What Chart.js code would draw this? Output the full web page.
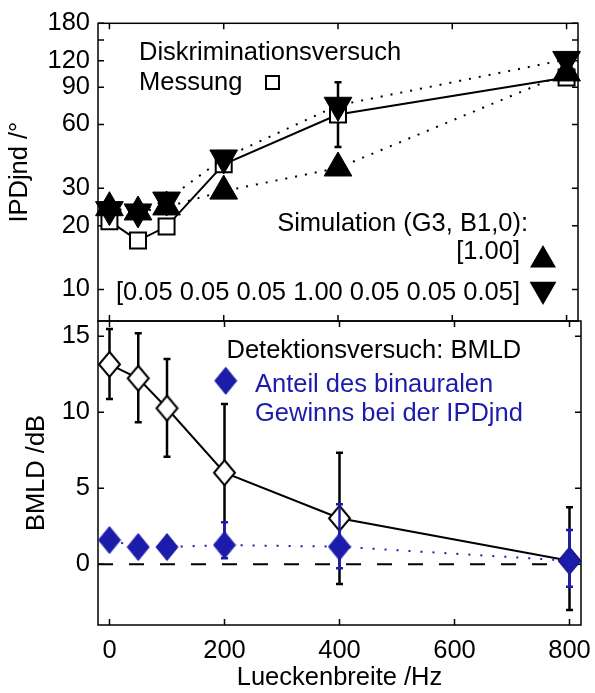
<!DOCTYPE html>
<html>
<head>
<meta charset="utf-8">
<script src="https://cdn.jsdelivr.net/npm/chart.js@4/dist/chart.umd.min.js"></script>
<style>
  body { margin: 0; background: #fff; }
  #wrap { position: relative; width: 595px; height: 693px; }
  #wrap canvas { position: absolute; left: 0; top: 0; }
</style>
</head>
<body>
<div id="wrap">
  <canvas id="ipdChart" width="595" height="693"></canvas>
  <canvas id="bmldChart" width="595" height="693"></canvas>
</div>
<script>
// Lueckenbreite /Hz
const xVals = [0, 50, 100, 200, 400, 800];
const xTicks = [0, 200, 400, 600, 800];
const xRange = [-20, 820];

// upper panel: IPDjnd (degrees, log axis)
const ipdMess = [21.0, 17.0, 19.8, 38.9, 66.8, 100];
const ipdMessLo = [null, null, null, null, 47, null];
const ipdMessHi = [null, null, null, null, 95, null];
const ipdSimA = [24.3, 23.2, 24.5, 29.1, 37.4, 105];     // [1.00]
const ipdSimB = [23.8, 23.2, 26.4, 41.7, 73.9, 121.6];   // [0.05 0.05 0.05 1.00 0.05 0.05 0.05]
const ipdTicks = [10, 20, 30, 60, 90, 120, 150, 180];
const ipdLabels = [10, 20, 30, 60, 90, 120, 180];
const ipdRange = [7.1, 180];

// lower panel: BMLD /dB
const bmld = [13.15, 12.23, 10.26, 6.02, 3.02, 0.23];
const bmldLo = [10.87, 9.34, 7.07, 1.5, -1.3, -3.01];
const bmldHi = [15.47, 15.19, 13.5, 10.54, 7.34, 3.74];
const anteil = [1.59, 1.13, 1.13, 1.26, 1.15, 0.23];
const anteilLo = [null, null, null, 0.39, -0.27, -1.48];
const anteilHi = [null, null, null, 2.76, 3.94, 2.25];
const bmldTicks = [0, 5, 10, 15];
const bmldRange = [-4, 16];

const BLUE = '#1c1caa';
const FONT = 'Liberation Sans, Arial, Helvetica, sans-serif';
const FS = 25.5;

Chart.defaults.font.family = FONT;
Chart.defaults.font.size = FS;
Chart.defaults.color = '#000';

function pts(ys) {
    return xVals.map((x, i) => ({ x: x, y: ys[i] }));
}

function diamond(w, h, fill, stroke, lw) {
    const c = document.createElement('canvas');
    c.width = w + lw * 2;
    c.height = h + lw * 2;
    const g = c.getContext('2d');
    g.beginPath();
    g.moveTo(c.width / 2, lw);
    g.lineTo(c.width - lw, c.height / 2);
    g.lineTo(c.width / 2, c.height - lw);
    g.lineTo(lw, c.height / 2);
    g.closePath();
    g.fillStyle = fill;
    g.fill();
    g.lineWidth = lw;
    g.strokeStyle = stroke;
    g.stroke();
    return c;
}
const openDiamond = diamond(21, 25, '#fff', '#000', 2);
const blueDiamond = diamond(22, 27, BLUE, BLUE, 1);

function triangle(ctx, x, y, r, down) {
    let rad = down ? Math.PI : 0;
    ctx.beginPath();
    for (let k = 0; k < 3; k++) {
        const px = x + Math.sin(rad) * r, py = y - Math.cos(rad) * r;
        if (k === 0) ctx.moveTo(px, py); else ctx.lineTo(px, py);
        rad += Math.PI * 2 / 3;
    }
    ctx.closePath();
    ctx.fillStyle = '#000';
    ctx.fill();
}

// box with inward ticks, error bars and the text notes inside the axes
function makeFrame(yTicks, notes) {
    return {
        id: 'frame',
        beforeDatasetsDraw(chart) {
            const { ctx, chartArea: a, scales: { x, y } } = chart;
            ctx.save();
            ctx.strokeStyle = '#000';
            ctx.lineWidth = 1.5;
            ctx.strokeRect(a.left, a.top, a.right - a.left, a.bottom - a.top);
            ctx.beginPath();
            xTicks.forEach(v => {
                const px = x.getPixelForValue(v);
                ctx.moveTo(px, a.top); ctx.lineTo(px, a.top + 6);
                ctx.moveTo(px, a.bottom); ctx.lineTo(px, a.bottom - 6);
            });
            yTicks.forEach(v => {
                const py = y.getPixelForValue(v);
                ctx.moveTo(a.left, py); ctx.lineTo(a.left + 6, py);
                ctx.moveTo(a.right, py); ctx.lineTo(a.right - 6, py);
            });
            ctx.stroke();
            ctx.restore();
        },
        beforeDatasetDraw(chart, args) {
            const ds = chart.data.datasets[args.index];
            if (!ds.errLo) return;
            const { ctx, scales: { x, y } } = chart;
            ctx.save();
            ctx.strokeStyle = ds.errColor;
            ctx.lineWidth = 2.5;
            ctx.beginPath();
            xVals.forEach((xv, i) => {
                if (ds.errLo[i] == null) return;
                const px = x.getPixelForValue(xv);
                const p1 = y.getPixelForValue(ds.errLo[i]);
                const p2 = y.getPixelForValue(ds.errHi[i]);
                ctx.moveTo(px, p1); ctx.lineTo(px, p2);
                ctx.moveTo(px - 3.5, p1); ctx.lineTo(px + 3.5, p1);
                ctx.moveTo(px - 3.5, p2); ctx.lineTo(px + 3.5, p2);
            });
            ctx.stroke();
            ctx.restore();
        },
        afterDraw(chart) {
            const ctx = chart.ctx;
            ctx.save();
            ctx.font = FS + 'px ' + FONT;
            ctx.textBaseline = 'alphabetic';
            notes(ctx);
            ctx.restore();
        }
    };
}

function ipdNotes(ctx) {
    ctx.fillStyle = '#000';
    ctx.textAlign = 'left';
    ctx.fillText('Diskriminationsversuch', 139, 60);
    ctx.fillText('Messung', 139, 89.5);
    ctx.lineWidth = 2;
    ctx.strokeStyle = '#000';
    ctx.strokeRect(266, 76, 13, 13);
    ctx.textAlign = 'right';
    ctx.fillText('Simulation (G3, B1,0):', 528, 230.5);
    ctx.fillText('[1.00]', 520, 258.5);
    ctx.fillText('[0.05 0.05 0.05 1.00 0.05 0.05 0.05]', 520, 300);
    triangle(ctx, 543, 260, 15, false);
    triangle(ctx, 543, 289.5, 15.5, true);
}

function bmldNotes(ctx) {
    ctx.textAlign = 'left';
    ctx.fillStyle = '#000';
    ctx.fillText('Detektionsversuch: BMLD', 226.5, 358.3);
    ctx.drawImage(blueDiamond, 225.7 - blueDiamond.width / 2, 380.8 - blueDiamond.height / 2);
    ctx.fillStyle = BLUE;
    ctx.fillText('Anteil des binauralen', 255, 391.7);
    ctx.fillText('Gewinns bei der IPDjnd', 255, 420.7);
}

const hiddenGrid = { display: false, drawTicks: false };

new Chart(document.getElementById('ipdChart'), {
    type: 'line',
    data: {
        datasets: [{
            label: 'Messung',
            data: pts(ipdMess),
            errLo: ipdMessLo, errHi: ipdMessHi, errColor: '#000',
            borderColor: '#000', borderWidth: 2,
            pointStyle: 'rect', pointRadius: 11.3,
            pointBackgroundColor: '#fff', pointBorderColor: '#000', pointBorderWidth: 2,
            clip: false, order: 3
        }, {
            label: '[1.00]',
            data: pts(ipdSimA),
            borderColor: '#000', borderWidth: 2, borderDash: [2, 8],
            pointStyle: 'triangle', pointRadius: 16,
            pointBackgroundColor: '#000', pointBorderColor: '#000', pointBorderWidth: 1,
            clip: false, order: 2
        }, {
            label: '[0.05 0.05 0.05 1.00 0.05 0.05 0.05]',
            data: pts(ipdSimB),
            borderColor: '#000', borderWidth: 2, borderDash: [2, 8],
            pointStyle: 'triangle', pointRotation: 180, pointRadius: 16,
            pointBackgroundColor: '#000', pointBorderColor: '#000', pointBorderWidth: 1,
            clip: false, order: 1
        }]
    },
    options: {
        responsive: false,
        animation: false,
        events: [],
        devicePixelRatio: 1,
        layout: { padding: { top: 18, right: 12, bottom: 372, left: 0 } },
        plugins: { legend: { display: false }, tooltip: { enabled: false } },
        scales: {
            x: { type: 'linear', min: xRange[0], max: xRange[1], display: false },
            y: {
                type: 'logarithmic', min: ipdRange[0], max: ipdRange[1],
                afterBuildTicks: s => { s.ticks = ipdTicks.map(v => ({ value: v })); },
                afterFit: s => { s.width = 98; },
                ticks: {
                    autoSkip: false, padding: 8,
                    callback: v => ipdLabels.includes(v) ? String(v) : ''
                },
                grid: hiddenGrid,
                border: { display: false },
                title: { display: true, text: 'IPDjnd /°', padding: { top: 4.5, bottom: 0 } }
            }
        }
    },
    plugins: [makeFrame(ipdTicks, ipdNotes)]
});

new Chart(document.getElementById('bmldChart'), {
    type: 'line',
    data: {
        datasets: [{
            label: 'zero',
            data: xRange.map(x => ({ x: x, y: 0 })),
            borderColor: '#000', borderWidth: 2, borderDash: [15, 16],
            pointRadius: 0, clip: false, order: 5
        }, {
            label: 'BMLD',
            data: pts(bmld),
            errLo: bmldLo, errHi: bmldHi, errColor: '#000',
            borderColor: '#000', borderWidth: 2,
            pointStyle: openDiamond, pointRadius: 12,
            clip: false, order: 4
        }, {
            label: 'Anteil des binauralen Gewinns bei der IPDjnd',
            data: pts(anteil),
            errLo: anteilLo, errHi: anteilHi, errColor: BLUE,
            borderColor: BLUE, borderWidth: 2, borderDash: [2, 10],
            pointStyle: blueDiamond, pointRadius: 12,
            clip: false, order: 3
        }]
    },
    options: {
        responsive: false,
        animation: false,
        events: [],
        devicePixelRatio: 1,
        layout: { padding: { top: 321, right: 12, bottom: 0, left: 0 } },
        plugins: { legend: { display: false }, tooltip: { enabled: false } },
        scales: {
            x: {
                type: 'linear', min: xRange[0], max: xRange[1],
                afterBuildTicks: s => { s.ticks = xTicks.map(v => ({ value: v })); },
                afterFit: s => { s.height = 68; s.paddingLeft = 0; s.paddingRight = 0; },
                ticks: { autoSkip: false, padding: 11, maxRotation: 0 },
                grid: hiddenGrid,
                border: { display: false },
                title: { display: true, text: 'Lueckenbreite /Hz', padding: { top: 0, bottom: 0 } }
            },
            y: {
                type: 'linear', min: bmldRange[0], max: bmldRange[1],
                afterBuildTicks: s => { s.ticks = bmldTicks.map(v => ({ value: v })); },
                afterFit: s => { s.width = 98; },
                ticks: { autoSkip: false, padding: 8 },
                grid: hiddenGrid,
                border: { display: false },
                title: { display: true, text: 'BMLD /dB', padding: { top: 22, bottom: 0 } }
            }
        }
    },
    plugins: [makeFrame(bmldTicks, bmldNotes)]
});
</script>
</body>
</html>
